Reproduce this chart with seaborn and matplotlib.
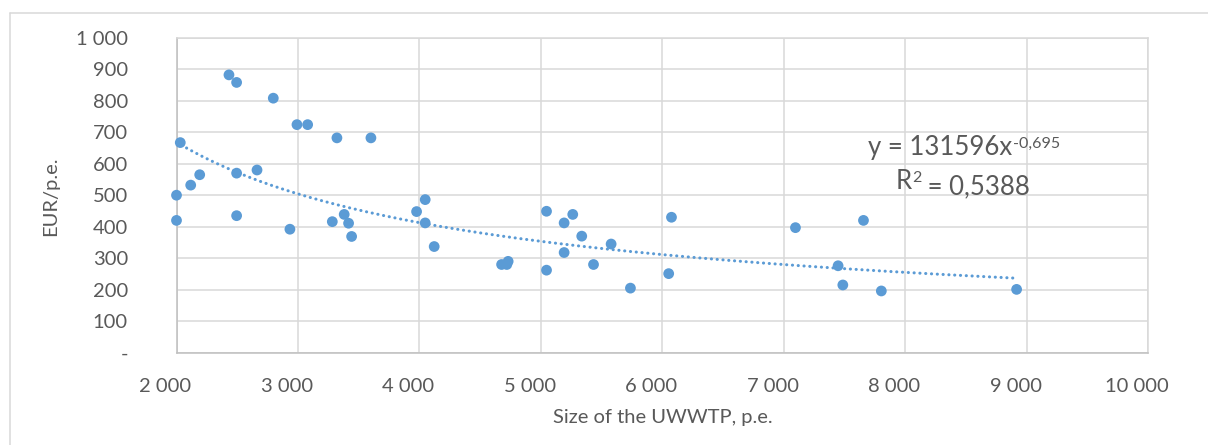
import numpy as np
import pandas as pd
import matplotlib
matplotlib.use("Agg")
import matplotlib.pyplot as plt
import matplotlib.lines as mlines
from matplotlib.transforms import ScaledTranslation
import seaborn as sns

# ---- data -------------------------------------------------------------
size_pe = [2000, 2000, 2031, 2117, 2191, 2432, 2495, 2495, 2495, 2663,
           2797, 2934, 2992, 3080, 3283, 3321, 3381, 3417, 3442, 3601,
           3977, 4048, 4048, 4122, 4677, 4720, 4731, 5047, 5047, 5192,
           5192, 5263, 5337, 5434, 5579, 5738, 6053, 6076, 7097, 7448,
           7487, 7657, 7804, 8918]
eur_pe = [500, 420, 667, 532, 565, 882, 858, 570, 435, 580,
          808, 392, 724, 724, 416, 682, 439, 411, 369, 682,
          448, 486, 412, 337, 280, 280, 290, 449, 262, 412,
          318, 439, 370, 280, 345, 205, 251, 430, 397, 276,
          215, 420, 196, 201]
trend_coef = 131596
trend_exp = -0.695
r_squared = "0,5388"

x_ticks = [2000, 3000, 4000, 5000, 6000, 7000, 8000, 9000, 10000]
x_ticklabels = ["2 000", "3 000", "4 000", "5 000", "6 000", "7 000", "8 000", "9 000", "10 000"]
y_ticks = [0, 100, 200, 300, 400, 500, 600, 700, 800, 900, 1000]
y_ticklabels = ["-", "100", "200", "300", "400", "500", "600", "700", "800", "900", "1 000"]

x_label = "Size of the UWWTP, p.e."
y_label = "EUR/p.e."

# ---- style ------------------------------------------------------------
sns.set_style("white")
plt.rcParams["font.family"] = ["Lato", "DejaVu Sans"]

BLUE = "#5B9BD5"
GRID = "#D9D9D9"
AXIS = "#BFBFBF"
TEXT = "#595959"

fig = plt.figure(figsize=(12.08, 4.45), dpi=100)
ax = fig.add_axes([176.5 / 1208, 1 - 352.7 / 445, (1148 - 176.5) / 1208, (352.7 - 37.7) / 445])

df = pd.DataFrame({"size": size_pe, "eur": eur_pe})

# trend line (power fit)
xt = np.linspace(min(size_pe), max(size_pe), 300)
yt = trend_coef * xt ** trend_exp
ax.plot(xt, yt, color=BLUE, lw=2.2, linestyle=(0, (0.05, 1.85)),
        dash_capstyle="round", solid_capstyle="round", zorder=2)

sns.scatterplot(data=df, x="size", y="eur", ax=ax, color=BLUE, s=60,
                edgecolor="none", linewidth=0, zorder=3, clip_on=False)

ax.set_xlim(2000, 10000)
ax.set_ylim(0, 1000)
ax.set_xticks(x_ticks)
ax.set_xticklabels(x_ticklabels)
ax.set_yticks(y_ticks)
ax.set_yticklabels(y_ticklabels)
ax.grid(True, color=GRID, lw=1.1)
ax.set_axisbelow(True)
for s in ["top", "right"]:
    ax.spines[s].set_color(GRID)
    ax.spines[s].set_linewidth(1.1)
for s in ["left", "bottom"]:
    ax.spines[s].set_color(AXIS)
    ax.spines[s].set_linewidth(1.1)

ax.tick_params(axis="both", length=0, labelsize=14.5, labelcolor=TEXT)
ax.tick_params(axis="y", pad=35)
ax.tick_params(axis="x", pad=18)
for lab in ax.get_xticklabels():
    lab.set_transform(lab.get_transform() + ScaledTranslation(-0.11, 0, fig.dpi_scale_trans))

ax.set_xlabel("")
ax.set_ylabel("")
fig.text(663 / 1208, 1 - 418 / 445, x_label, ha="center", va="center", fontsize=14.5, color=TEXT)
fig.text(51 / 1208, 1 - 196 / 445, y_label, ha="center", va="center", fontsize=14.5,
         color=TEXT, rotation=90)

# equation text
t1 = ax.text(7696, 627, f"y = {trend_coef}x", fontsize=18.5, color=TEXT, va="baseline", ha="left")
ax.annotate(f"{trend_exp}".replace(".", ","), xy=(1, 1), xycoords=t1, xytext=(0.5, -1),
            textcoords="offset points", fontsize=11.5, color=TEXT, va="top", ha="left")
tr = ax.text(7918, 519, "R", fontsize=18.5, color=TEXT, va="baseline", ha="left")
t2 = ax.annotate("2", xy=(1, 1), xycoords=tr, xytext=(0.5, -1.5),
                 textcoords="offset points", fontsize=11.5, color=TEXT, va="top", ha="left")
ax.annotate(f" = {r_squared}", xy=(1, 0), xycoords=(t2, tr), xytext=(0, 0),
            textcoords="offset points", fontsize=18.5, color=TEXT, va="baseline", ha="left")

# chart area border (left and top only visible)
fig.add_artist(mlines.Line2D([10 / 1208, 10 / 1208], [0, 1 - 12.7 / 445],
                             transform=fig.transFigure, color=GRID, lw=1.1))
fig.add_artist(mlines.Line2D([10 / 1208, 1], [1 - 12.7 / 445, 1 - 12.7 / 445],
                             transform=fig.transFigure, color=GRID, lw=1.1))

fig.savefig("out.png", dpi=100, facecolor="white")
